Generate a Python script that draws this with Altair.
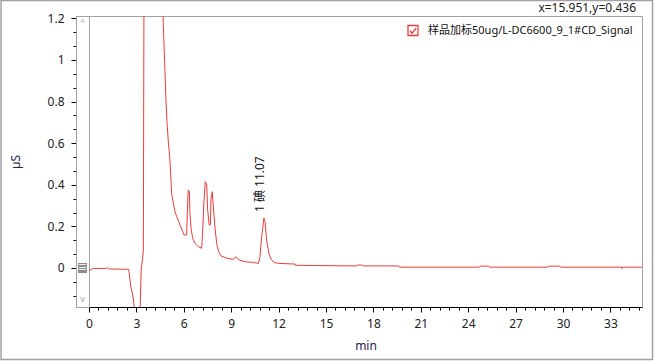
import altair as alt
import pandas as pd

# ---- data ------------------------------------------------------------------
time_min = [0.0, 0.19, 0.27, 1.1, 1.15, 1.3, 2.49, 2.53, 2.6, 2.64, 2.7, 2.77, 2.85,
            3.0, 3.15, 3.22, 3.3, 3.4, 3.44, 3.5, 3.62, 3.9, 4.3, 4.6, 4.68, 4.72,
            4.81, 4.87, 4.94, 5.02, 5.11, 5.17, 5.23, 5.34, 5.44, 5.55, 5.76, 5.93,
            6.01, 6.18, 6.25, 6.28, 6.35, 6.39, 6.46, 6.56, 6.71, 6.92, 7.13, 7.2,
            7.28, 7.36, 7.45, 7.51, 7.61, 7.68, 7.72, 7.8, 7.87, 7.97, 8.08, 8.21,
            8.35, 8.72, 9.13, 9.3, 9.51, 9.87, 10.4, 10.72, 10.82, 10.93, 11.07,
            11.14, 11.25, 11.41, 11.56, 11.77, 12.09, 13.04, 13.06, 15.2, 16.9,
            17.0, 17.3, 17.35, 19.6, 19.65, 24.7, 24.75, 25.3, 25.35, 29.05, 29.1,
            29.8, 29.85, 33.7, 33.72, 33.78, 35.0]
signal_uS = [-0.013, -0.005, -0.002, -0.002, 0.002, -0.005, -0.006, -0.018, -0.058,
             -0.09, -0.106, -0.13, -0.178, -0.42, -0.40, -0.25, -0.01, 0.051, 0.087,
             2.0, 4.6, 4.2, 2.6, 1.45, 1.23, 1.128, 0.944, 0.808, 0.696, 0.607, 0.535,
             0.45, 0.359, 0.311, 0.271, 0.247, 0.207, 0.175, 0.159, 0.159, 0.327,
             0.375, 0.367, 0.263, 0.19, 0.143, 0.118, 0.103, 0.095, 0.183, 0.327,
             0.415, 0.399, 0.279, 0.207, 0.207, 0.327, 0.367, 0.295, 0.199, 0.118,
             0.078, 0.058, 0.047, 0.042, 0.054, 0.038, 0.03, 0.027, 0.022, 0.054,
             0.15, 0.24, 0.223, 0.127, 0.063, 0.038, 0.025, 0.022, 0.019, 0.013,
             0.011, 0.01, 0.014, 0.014, 0.01, 0.01, 0.004, 0.004, 0.009, 0.009,
             0.004, 0.004, 0.009, 0.009, 0.004, 0.004, -0.003, 0.004, 0.004]
series_name = "样品加标50ug/L-DC6600_9_1#CD_Signal"

peak_time = [11.07]
peak_value = [0.24]
peak_label = ["1 碘 11.07"]
cursor_text = ["x=15.951,y=0.436"]

x_domain = [0, 35]
y_domain = [-0.1875, 1.2115]
x_major = [0, 3, 6, 9, 12, 15, 18, 21, 24, 27, 30, 33]
x_minor = [round(i * 0.6, 1) for i in range(0, 59)]
y_major = [0, 0.2, 0.4, 0.6, 0.8, 1, 1.2]
y_minor = [round(-0.2 + i / 15, 4) for i in range(0, 23)]

# ---- styles ------------------------------------------------------------------
FONT = "Noto Sans, Noto Sans CJK SC, sans-serif"
RED = "#ee3b3b"
GREY = "#a0a0a6"
W, H = 553, 291

df = pd.DataFrame({"t": time_min, "v": signal_uS, "series": series_name})
ann = pd.DataFrame({"t": peak_time, "v": peak_value, "label": peak_label})
cur = pd.DataFrame({"label": cursor_text})
one = pd.DataFrame({"k": [0]})

xs = alt.Scale(domain=x_domain, nice=False, zero=False)
ys = alt.Scale(domain=y_domain, nice=False, zero=False)

check_path = "M-1,-1H1V1H-1Z M-0.62,0.05L-0.2,0.55L0.62,-0.45"

main = alt.Chart(df).mark_line(clip=True, strokeWidth=1).encode(
    x=alt.X("t:Q", scale=xs,
            axis=alt.Axis(values=x_major, format="d", title="min", tickSize=5,
                          labelPadding=6, domainColor="#000", tickColor="#000",
                          titleY=42, titleBaseline="alphabetic", grid=False,
                          labelFlush=False, orient="bottom")),
    y=alt.Y("v:Q", scale=ys,
            axis=alt.Axis(values=y_major, format="~g", title="µS", tickSize=5,
                          labelPadding=7, offset=13, domainColor=GREY,
                          tickColor="#000", titleX=-61, titleY=H / 2,
                          titleBaseline="middle", titleAngle=270, grid=False,
                          labelFlush=False, orient="left")),
    color=alt.Color("series:N", scale=alt.Scale(range=[RED]),
                    legend=alt.Legend(title=None, orient="none", legendX=318,
                                      legendY=8.5, symbolType=check_path,
                                      symbolSize=100, symbolStrokeColor="#e43434",
                                      symbolFillColor="white", symbolStrokeWidth=1.3,
                                      labelFont=FONT, labelFontSize=11,
                                      labelColor="#111", labelOffset=9,
                                      labelLimit=400)),
)

minor = alt.Chart(df).mark_line(opacity=0).encode(
    x=alt.X("t:Q", scale=xs,
            axis=alt.Axis(values=x_minor, labels=False, domain=False, tickSize=3,
                          tickColor="#000", title=None, grid=False, orient="bottom")),
    y=alt.Y("v:Q", scale=ys,
            axis=alt.Axis(values=y_minor, labels=False, domain=False, tickSize=3,
                          offset=13, tickColor="#000", title=None, grid=False,
                          orient="left")),
)

annot = alt.Chart(ann).mark_text(angle=270, align="left", baseline="alphabetic",
                                 dx=6, dy=0, font=FONT, fontSize=12,
                                 color="#111").encode(
    x=alt.X("t:Q", scale=xs, axis=None),
    y=alt.Y("v:Q", scale=ys, axis=None),
    text="label:N",
)

cursor = alt.Chart(cur).mark_text(align="right", baseline="middle", font=FONT,
                                  fontSize=12, color="#222").encode(
    x=alt.value(547), y=alt.value(-8), text="label:N")

strip = alt.Chart(one).mark_rect(fill="white", stroke=GREY, strokeWidth=1).encode(
    x=alt.value(-12.5), x2=alt.value(0.5), y=alt.value(0.5), y2=alt.value(H + 0.5))

button = alt.Chart(one).mark_rect(fill="#8e8e8e").encode(
    x=alt.value(-11), x2=alt.value(-2), y=alt.value(247), y2=alt.value(257))

button_txt = alt.Chart(one).mark_text(text="≡", color="white", fontSize=10,
                                      font=FONT, baseline="middle").encode(
    x=alt.value(-6.5), y=alt.value(252))

up_txt = alt.Chart(one).mark_text(text="^", color="#999", fontSize=8, font=FONT,
                                  baseline="middle").encode(
    x=alt.value(-6.5), y=alt.value(7))

down_txt = alt.Chart(one).mark_text(text="v", color="#999", fontSize=8, font=FONT,
                                    baseline="middle").encode(
    x=alt.value(-6.5), y=alt.value(284))

frame = alt.Chart(one).mark_rect(fill="transparent", stroke=GREY,
                                 strokeWidth=1.5).encode(
    x=alt.value(-88), x2=alt.value(563.5), y=alt.value(-15.5), y2=alt.value(343.5))

chart = alt.layer(
    strip, button, button_txt, up_txt, down_txt, minor, main, annot, cursor, frame
).resolve_axis(x="independent", y="independent").properties(
    width=W, height=H,
    autosize=alt.AutoSizeParams(type="none"),
    padding={"left": 89, "top": 16, "right": 12, "bottom": 54},
    background="white",
).configure_view(stroke=GREY, strokeWidth=1).configure_axis(
    labelFont=FONT, labelFontSize=12, labelColor="#222", titleFont=FONT,
    titleFontSize=12, titleColor="#23234e", titleFontWeight="normal",
)

chart.save("out.html", embed_options={"renderer": "svg", "actions": False})
